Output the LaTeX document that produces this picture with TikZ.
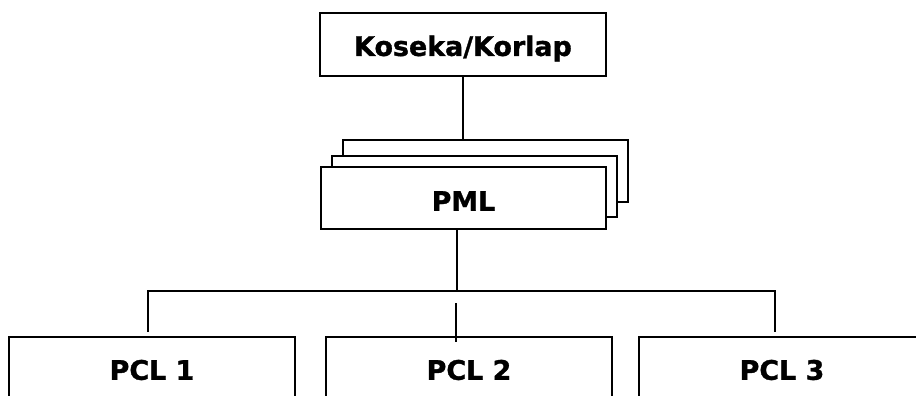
\documentclass[tikz,border=0pt]{standalone}
\usepackage{fontspec}
\setmainfont{DejaVu Sans}[BoldFeatures={FakeBold=1.2}]
\begin{document}
\begin{tikzpicture}[x=1bp,y=-1bp,
  box/.style={draw=black, line width=2.2bp, fill=white, minimum width=286bp, inner sep=0pt,
    font=\bfseries\fontsize{27}{32}\selectfont},
  conn/.style={draw=black, line width=2.2bp}]
\useasboundingbox (0,0) rectangle (916,395);
% top box
\node[box, minimum height=63bp] (kos) at (463,44.5) {\raisebox{-4bp}[\height][\depth]{Koseka/Korlap}};
% stacked PML frames
\node[box, minimum width=285bp, minimum height=62bp] (pmlback) at (485.5,171) {};
\node[box, minimum width=285bp, minimum height=61bp] (pmlmid) at (474.5,186.5) {};
\node[box, minimum width=285bp, minimum height=62bp] (pml) at (463.5,198) {\raisebox{-3bp}[\height][\depth]{PML}};
% bottom boxes (open below the picture edge)
\node[box, minimum height=66bp] (pcl1) at (152,370) {PCL 1};
\node[box, minimum height=66bp] (pcl2) at (469,370) {PCL 2};
\node[box, minimum height=66bp] (pcl3) at (782,370) {PCL 3};
% connector coordinates
\coordinate (pmlout) at (457,229);
\coordinate (busmid) at (457,291);
\coordinate (busl) at (148,291);
\coordinate (busr) at (775,291);
\coordinate (d1) at (148,332);
\coordinate (d3) at (775,332);
\coordinate (d2a) at (456,303);
\coordinate (d2b) at (456,342);
% connectors
\draw[conn] (kos.south) -- (kos.south |- pmlback.north);
\draw[conn] (pmlout) -- (busmid);
\draw[conn] (d1) -- (busl) -- (busr) -- (d3);
\draw[conn] (d2a) -- (d2b);
\end{tikzpicture}
\end{document}
